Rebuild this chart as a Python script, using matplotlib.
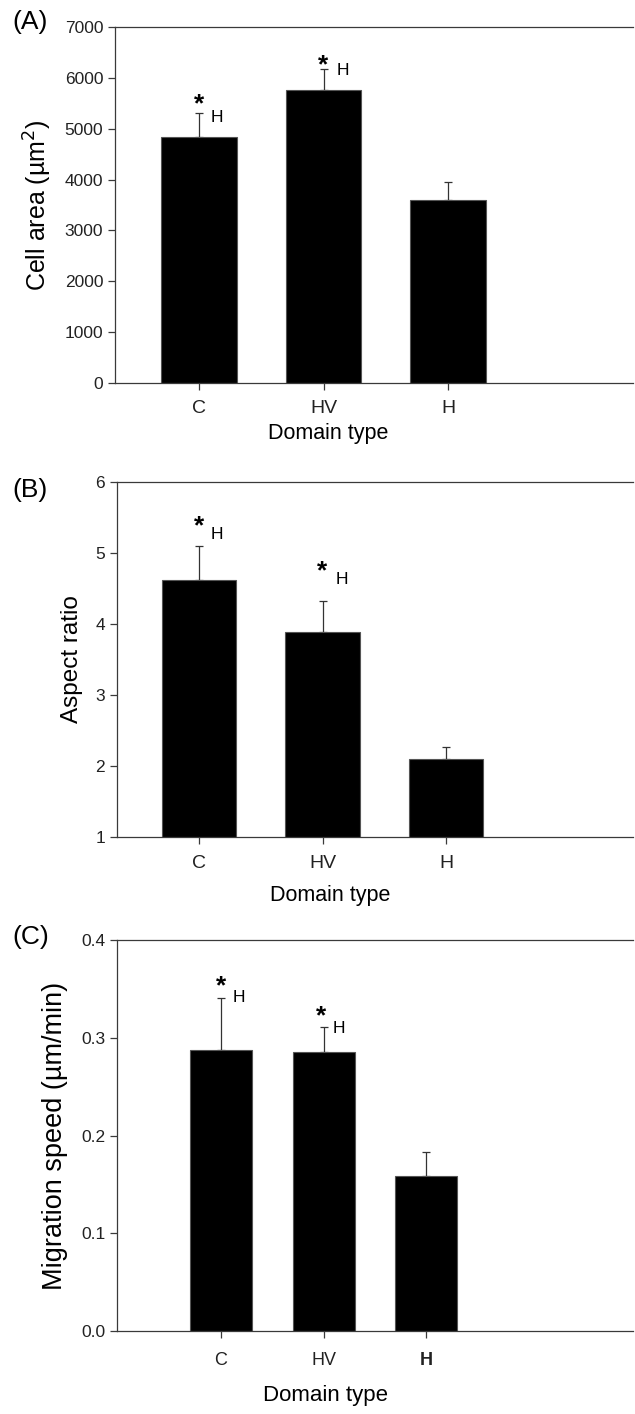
import numpy as np
import matplotlib
matplotlib.use("Agg")
from matplotlib import pyplot as plt

plt.rcParams['font.family'] = ['Liberation Sans', 'DejaVu Sans']

domains = ["C", "HV", "H"]

# cell area (um^2), mean and upper error
area = [4840, 5760, 3600]
area_err = [470, 410, 350]

# aspect ratio
aspect = [4.62, 3.89, 2.10]
aspect_err = [0.48, 0.44, 0.17]

# migration speed (um/min)
speed = [0.287, 0.285, 0.159]
speed_err = [0.054, 0.026, 0.024]

# which bars get the "* H" marks
marked = [True, True, False]

fig = plt.figure(figsize=(6.35, 14.14), dpi=100)
W, H = 635, 1414

def make_ax(left, top, right, bottom):
    return fig.add_axes([left / W, 1 - bottom / H, (right - left) / W, (bottom - top) / H])

ax_a = make_ax(115, 27, 633, 383)
ax_b = make_ax(117, 482, 633, 837)
ax_c = make_ax(117, 940, 633, 1331)

spine_col = "#3a3a3a"
txt_col = "#222222"


def draw_panel(ax, vals, errs, xpos, width, xlim, ylim, yticks, fmt,
               star_off, h_off, tick_fs, tick_pad):
    ax.bar(xpos, vals, width, color="black", edgecolor="#555555", linewidth=0.8, zorder=2)
    ax.errorbar(xpos, vals, yerr=[np.zeros(len(vals)), errs], fmt="none",
                ecolor="#333333", elinewidth=0.9, capsize=3.2, capthick=0.9, zorder=1)
    ax.set_xlim(*xlim)
    ax.set_ylim(*ylim)
    ax.set_yticks(yticks)
    ax.set_yticklabels([fmt % t for t in yticks], fontsize=12.5, color=txt_col)
    ax.set_xticks(xpos)
    ax.set_xticklabels(domains, fontsize=tick_fs, color=txt_col)
    for s in ["left", "bottom", "top"]:
        ax.spines[s].set_color(spine_col)
        ax.spines[s].set_linewidth(0.9)
    ax.spines["right"].set_visible(False)
    ax.tick_params(axis="both", direction="out", length=5, width=0.9, color=spine_col)
    ax.tick_params(axis="y", pad=3.5)
    ax.tick_params(axis="x", pad=tick_pad)
    for i, m in enumerate(marked):
        if not m:
            continue
        top = vals[i] + errs[i]
        ax.annotate("*", (xpos[i], top), xytext=(star_off[i][0], star_off[i][1]),
                    textcoords="offset points", ha="center", va="center",
                    fontsize=19, fontweight="bold", color="black")
        ax.annotate("H", (xpos[i], top), xytext=(h_off[i][0], h_off[i][1]),
                    textcoords="offset points", ha="center", va="center",
                    fontsize=12.5, color="black")


x = np.arange(3)

# (A) cell area
draw_panel(ax_a, area, area_err, x, 0.61, (-0.675, 3.486), (0, 7000),
           range(0, 7001, 1000), "%d",
           [(0, 6), (0, 3)], [(13, -3), (14, -1)], 14, 7.5)
ax_a.set_ylabel("Cell area (\u00b5m$^2$)", fontsize=18, color="black")
ax_a.yaxis.set_label_coords(-0.118, 0.5)
ax_a.set_xlabel("Domain type", fontsize=15.5, color="black")
ax_a.xaxis.set_label_coords(0.411, -0.113)

# (B) aspect ratio
draw_panel(ax_b, aspect, aspect_err, x, 0.607, (-0.664, 3.514), (1, 6),
           range(1, 7), "%d",
           [(0, 14), (0, 21)], [(13, 8), (14, 15)], 14, 8)
ax_b.set_ylabel("Aspect ratio", fontsize=17.5, color="black")
ax_b.yaxis.set_label_coords(-0.066, 0.5)
ax_b.set_xlabel("Domain type", fontsize=15.5, color="black")
ax_b.xaxis.set_label_coords(0.413, -0.135)

# (C) migration speed
draw_panel(ax_c, speed, speed_err, x, 0.605, (-1.015, 4.02), (0, 0.4),
           [0.0, 0.1, 0.2, 0.3, 0.4], "%.1f",
           [(0, 8), (-2, 8)], [(13, 0), (11, -1)], 13, 10)
ax_c.get_xticklabels()[2].set_fontweight("bold")
ax_c.set_ylabel("Migration speed (\u00b5m/min)", fontsize=19.5, color="black")
ax_c.yaxis.set_label_coords(-0.095, 0.5)
ax_c.set_xlabel("Domain type", fontsize=16, color="black")
ax_c.xaxis.set_label_coords(0.405, -0.138)

# panel letters
fig.text(12 / W, 1 - 22 / H, "(A)", fontsize=19, va="center", ha="left")
fig.text(12 / W, 1 - 490 / H, "(B)", fontsize=19, va="center", ha="left")
fig.text(12 / W, 1 - 937 / H, "(C)", fontsize=19, va="center", ha="left")

fig.savefig("out.png", dpi=100)
